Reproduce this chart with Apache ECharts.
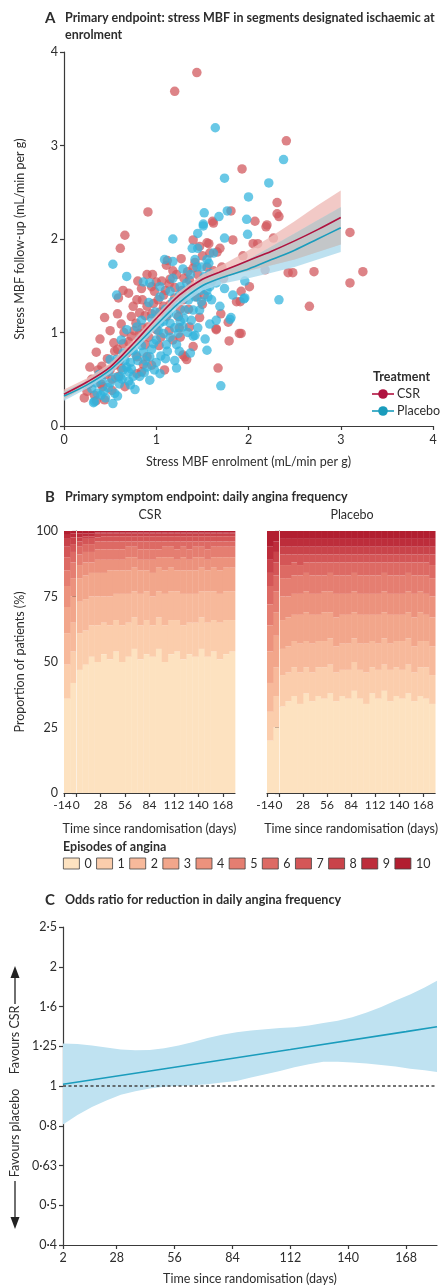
<!DOCTYPE html>
<html><head><meta charset="utf-8">
<script src="https://cdn.jsdelivr.net/npm/echarts@6/dist/echarts.min.js"></script>
<style>html,body{margin:0;padding:0;background:#fff}#c{width:440px;height:1286px}</style>
</head><body><div id="c"></div>
<script>
// ---------- Panel A data ----------
const csrPoints = [[1.44,3.78],[1.20,3.58],[2.41,3.05],[1.93,2.75],[2.31,2.39],[0.91,2.29],[1.81,2.30],[2.31,2.27],[2.33,2.24],[2.07,2.19],[1.61,2.19],[2.20,2.15],[3.10,2.07],[2.05,1.95],[2.10,1.95],[2.27,2.01],[1.94,1.82],[2.18,1.67],[2.43,1.64],[2.48,1.64],[2.71,1.65],[3.24,1.65],[3.10,1.53],[2.01,1.49],[1.92,1.44],[1.91,1.33],[2.66,1.28],[1.92,0.99],[0.66,2.04],[0.61,1.90],[1.62,2.17],[1.40,1.99],[1.57,1.95],[1.83,1.99],[2.19,2.13],[1.69,1.90],[1.27,1.79],[1.11,1.72],[1.71,1.70],[1.87,1.33],[1.78,1.11],[1.65,1.03],[1.90,0.99],[1.79,0.91],[1.31,0.74],[1.33,0.71],[1.67,0.62],[1.09,0.60],[0.25,0.37],[0.28,0.63],[0.35,0.79],[0.39,0.93],[0.44,1.16],[0.44,0.28],[0.35,0.27],[0.33,0.33],[0.90,1.62],[0.59,1.37],[0.64,1.45],[0.79,1.35],[0.95,1.49],[1.00,1.54],[0.62,1.09],[0.41,0.64],[0.54,0.89],[0.55,0.80],[0.70,1.42],[0.73,1.17],[0.84,1.47],[1.06,1.55],[1.15,1.57],[1.12,1.77],[1.34,1.65],[1.40,1.69],[1.45,1.62],[0.82,1.21],[0.90,1.28],[0.97,1.31],[1.04,1.22],[1.11,1.17],[1.20,1.37],[1.29,1.35],[1.44,1.38],[0.91,1.06],[1.00,1.03],[0.82,0.99],[0.73,0.96],[0.88,0.87],[0.79,0.74],[0.90,0.74],[0.84,0.58],[0.79,0.56],[0.66,0.42],[0.59,0.53],[0.50,0.60],[1.29,0.76],[1.65,1.04],[1.55,1.96],[1.58,1.85],[1.24,1.17],[0.75,1.28],[1.30,1.58],[1.20,1.48],[1.08,1.40],[0.95,1.20],[1.00,1.10],[0.85,1.05],[0.70,0.90],[0.60,0.70],[0.45,0.55],[0.40,0.45],[0.30,0.50],[0.55,0.65],[0.68,0.78],[1.25,1.05],[1.35,1.25],[1.50,1.30],[1.15,1.30],[1.05,0.95],[0.92,0.95],[1.18,0.92],[1.38,1.50],[1.60,1.55],[1.55,1.70],[1.50,1.82],[0.78,1.10],[0.65,1.00],[1.10,1.45],[0.85,1.35],[0.42,0.42],[0.22,0.30],[0.52,0.38],[0.95,0.65],[1.40,0.85],[1.70,1.20],[0.58,0.82],
[1.02,1.35],[1.08,1.28],[1.14,1.52],[1.22,1.62],[1.28,1.45],[1.36,1.56],[1.42,1.75],[1.47,1.92],[1.18,1.66],[0.98,1.44],[0.88,1.18],[0.76,1.02],[0.70,0.80],[0.62,0.62],[0.52,0.50],[0.47,0.72],[0.37,0.60],[0.27,0.45],[0.64,0.88],[0.86,0.66],[1.03,0.86],[1.14,1.02],[1.26,0.95],[1.36,1.06],[1.47,1.16],[1.52,1.40],[1.62,1.66],[1.66,1.86],[1.73,1.58],[0.96,1.62],[1.26,1.25],[0.80,1.55],[0.58,1.20],[0.50,1.02]];
const placeboPoints = [[1.64,3.19],[2.38,2.85],[1.74,2.65],[2.22,2.60],[2.00,2.45],[1.52,2.28],[1.68,2.24],[1.77,2.30],[1.98,2.21],[1.51,2.16],[1.99,2.05],[2.36,1.92],[1.96,1.55],[1.95,1.36],[2.33,1.35],[0.53,1.73],[1.51,2.14],[1.45,2.06],[1.18,2.00],[1.74,2.01],[1.39,1.90],[1.09,1.78],[1.18,1.76],[1.57,1.74],[1.83,1.40],[1.96,1.37],[1.80,1.14],[1.65,1.13],[1.58,1.09],[1.53,0.93],[1.40,0.96],[1.55,0.81],[1.37,0.78],[1.70,0.43],[1.22,0.62],[0.53,0.24],[0.33,0.26],[0.68,1.60],[0.57,1.40],[0.86,1.54],[1.42,1.78],[1.55,1.78],[1.49,1.70],[1.58,1.63],[1.65,1.53],[1.74,1.47],[1.42,0.97],[0.32,0.25],[0.43,0.37],[0.35,0.46],[0.50,0.46],[0.41,0.49],[0.61,0.53],[0.68,0.63],[0.75,0.53],[0.82,0.53],[0.90,0.63],[0.93,0.74],[0.86,0.79],[0.75,0.81],[0.64,0.78],[0.57,0.71],[0.77,0.39],[0.82,0.92],[1.00,0.92],[1.08,0.99],[1.11,0.87],[1.22,0.87],[1.24,0.99],[1.04,1.10],[1.15,1.10],[1.22,1.19],[1.31,1.24],[1.40,1.24],[1.47,1.24],[1.38,1.13],[1.29,1.06],[1.42,1.38],[1.49,1.33],[1.56,1.38],[1.26,1.49],[1.15,1.44],[1.04,1.38],[1.04,1.49],[0.93,1.53],[1.33,1.53],[1.47,1.53],[1.58,1.49],[1.69,1.28],[1.81,1.16],[0.84,1.13],[0.79,1.06],[0.68,1.03],[0.62,0.92],[0.50,0.71],[0.93,0.49],[1.04,0.56],[0.64,0.60],[0.45,0.30],[0.55,0.35],[0.60,0.45],[0.70,0.48],[0.72,0.68],[0.80,0.70],[0.95,0.82],[1.05,0.75],[1.15,0.95],[1.20,1.05],[1.30,1.15],[1.35,1.35],[1.10,1.25],[0.95,1.15],[0.88,0.98],[1.48,1.45],[1.52,1.60],[1.62,1.85],[1.45,1.90],[0.38,0.55],[0.48,0.58],[1.00,0.68],[1.10,0.72],[1.25,0.80],[0.70,0.58],[0.30,0.40],
[0.40,0.33],[0.48,0.41],[0.56,0.52],[0.63,0.50],[0.66,0.70],[0.73,0.61],[0.78,0.76],[0.84,0.86],[0.88,0.70],[0.97,0.88],[1.02,1.02],[1.08,1.12],[1.13,1.20],[1.18,1.33],[1.25,1.40],[1.32,1.44],[1.37,1.62],[1.44,1.70],[1.50,1.52],[1.55,1.45],[1.60,1.35],[1.26,1.12],[1.34,1.00],[1.45,1.05],[1.12,0.80],[0.98,0.60],[0.87,0.57],[0.72,0.44],[0.58,0.32],[0.36,0.35],[0.92,1.32],[0.99,1.22],[1.18,1.58],[1.29,1.68],[1.40,1.46],[1.20,0.70]];
const fitX       = [0, 0.25, 0.5, 0.75, 1.0, 1.25, 1.5, 1.75, 2.0, 2.25, 2.5, 2.75, 3.0];
const csrFit     = [0.34,0.47,0.63,0.88,1.15,1.40,1.57,1.67,1.77,1.87,1.98,2.10,2.23];
const csrLo      = [0.29,0.43,0.59,0.84,1.11,1.36,1.52,1.60,1.66,1.72,1.78,1.86,1.94];
const csrHi      = [0.39,0.51,0.67,0.92,1.19,1.44,1.62,1.74,1.88,2.03,2.19,2.36,2.52];
const placeboFit = [0.32,0.44,0.60,0.83,1.08,1.32,1.50,1.60,1.68,1.78,1.88,2.00,2.12];
const placeboLo  = [0.27,0.40,0.56,0.79,1.04,1.28,1.45,1.53,1.58,1.64,1.70,1.78,1.86];
const placeboHi  = [0.37,0.48,0.64,0.87,1.12,1.36,1.55,1.67,1.78,1.92,2.06,2.20,2.34];

// ---------- Panel B data ----------
const episodeCategories = ['0','1','2','3','4','5','6','7','8','9','10'];
const binStartDays = [-14,-7,0,7,14,21,28,35,42,49,56,63,70,77,84,91,98,105,112,119,126,133,140,147,154,161,168,175];
const binDays = 7;
const csrProportions = [
[36,13,12,10,8,6,5,4,3,1.5,1.5],[42,12,11,10,7,6,4,3,2.5,1.5,1],
[47,14,12,9,5,4,3,2,1.5,1.5,1],[49,13,12,9,5,4,3,2,1,1,1],[52,12,11,9,4,4,3,2,1,1,1],[50,14,11,9,5,4,3,1.5,1.5,0.5,0.5],
[53,12,10,9,5,4,3,2,1,0.5,0.5],[51,13,11,10,4,4,3,2,1,0.5,0.5],[54,12,10,9,4,4,3,2,1,0.5,0.5],[50,14,12,9,4,4,3,2,1,0.5,0.5],
[52,13,11,9,5,4,2,2,1,0.5,0.5],[55,12,10,9,4,4,2,2,1,0.5,0.5],[51,13,12,9,4,4,3,2,1,0.5,0.5],[53,13,11,8,4,4,3,2,1,0.5,0.5],
[52,12,11,9,5,4,3,2,1,0.5,0.5],[55,12,10,9,4,3,3,2,1,0.5,0.5],[50,14,12,9,5,4,2,2,1,0.5,0.5],[53,13,11,9,4,4,2,2,1,0.5,0.5],
[54,12,11,8,4,4,3,2,1,0.5,0.5],[51,13,12,9,5,4,2,2,1,0.5,0.5],[53,12,11,9,4,4,3,2,1,0.5,0.5],[52,13,11,9,5,4,2,2,1,0.5,0.5],
[55,12,10,9,4,4,2,2,1,0.5,0.5],[52,13,12,8,4,4,3,2,1,0.5,0.5],[54,12,11,9,4,4,2,2,1,0.5,0.5],[51,14,11,9,5,4,2,2,1,0.5,0.5],
[53,13,11,9,4,4,2,2,1,0.5,0.5],[54,12,11,9,4,4,2,2,1,0.5,0.5]];
const placeboProportions = [
[20,11,11,12,10,8,7,5,5,5,6],[25,12,11,12,9,8,6,5,4,4,4],
[33,12,10,11,9,7,5,4,3,3,3],[35,11,10,11,8,7,5,4,3,3,3],[37,11,10,10,8,7,5,3,3,3,3],[34,12,11,11,8,7,4,4,3,3,3],
[38,10,10,11,8,7,4,3,3,3,3],[35,11,11,11,8,7,5,3,3,3,3],[37,11,10,10,8,7,5,3,3,3,3],[36,12,10,11,8,6,5,3,3,3,3],
[38,11,10,10,8,7,4,3,3,3,3],[35,11,10,11,9,7,5,3,3,3,3],[37,10,10,11,8,7,5,3,3,3,3],[36,11,10,11,8,7,5,3,3,3,3],
[39,11,9,10,8,7,4,3,3,3,3],[36,11,10,11,8,7,5,3,3,3,3],[34,12,11,11,8,7,5,3,3,3,3],[38,10,10,10,8,7,5,3,3,3,3],
[36,11,10,11,8,7,5,3,3,3,3],[39,10,10,10,8,7,4,3,3,3,3],[35,12,10,11,8,7,5,3,3,3,3],[37,11,10,10,8,7,5,3,3,3,3],
[36,11,11,10,8,7,5,3,3,3,3],[38,11,10,10,8,7,4,3,3,3,3],[35,11,10,11,9,7,5,3,3,3,3],[37,11,10,11,8,6,5,3,3,3,3],
[36,12,10,10,8,7,5,3,3,3,3],[34,11,11,11,8,7,5,4,3,3,3]];
const dayTicks = [-14,0,28,56,84,112,140,168];

// ---------- Panel C data ----------
const orDays  = [2,9,16,23,30,37,44,51,58,65,72,79,86,93,100,107,114,121,128,135,142,149,156,163,170,177,183];
const orUpper = [1.28,1.275,1.265,1.25,1.235,1.23,1.232,1.245,1.265,1.29,1.32,1.345,1.365,1.38,1.39,1.40,1.405,1.42,1.44,1.46,1.49,1.53,1.58,1.64,1.70,1.77,1.84];
const orLower = [0.80,0.845,0.885,0.92,0.95,0.97,0.985,0.995,1.0,1.005,1.01,1.02,1.03,1.05,1.07,1.09,1.115,1.135,1.15,1.15,1.145,1.14,1.13,1.12,1.105,1.095,1.085];
const orLineDays = [2,56,112,168,183];
const orLine     = [1.01,1.115,1.235,1.37,1.41];
const orRefDays  = [2,183];
const orRefLine  = [1,1];
const orTickValues = [0.4,0.5,0.63,0.8,1,1.25,1.6,2,2.5];
const orTickLabels = ['0·4','0·5','0·63','0·8','1','1·25','1·6','2','2·5'];
const orDayTicks = [2,28,56,84,112,140,168];

// ---------- styling ----------
const FONT = 'Lato, "Open Sans", sans-serif';
const TXT = '#2d2d2d';
const AX = '#3a3a3a';
const episodeColors = ['#fde2c0','#fbcdac','#f7b99b','#f2a68b','#ec927d','#e57e71','#dd6a64','#d45657','#c9434a','#bd2d3b','#b21e30'];
const csrRed = '#d25a5f', plaBlue = '#2fb3dc';

const axisBase = {
  axisLine:{show:true,lineStyle:{color:AX,width:1.2}},
  axisTick:{show:true,length:4,lineStyle:{color:AX,width:1.2}},
  axisLabel:{color:TXT,fontSize:12.5,fontFamily:FONT},
  splitLine:{show:false},
  nameTextStyle:{color:TXT,fontSize:12.5,fontFamily:FONT}
};
function ax(o){ return Object.assign({}, JSON.parse(JSON.stringify(axisBase)), o, {
  axisLabel:Object.assign({}, axisBase.axisLabel, o.axisLabel||{}),
  axisTick:Object.assign({}, axisBase.axisTick, o.axisTick||{}) }); }

const chart = echarts.init(document.getElementById('c'), null, {renderer:'canvas'});
const series = [];

function bandSeries(xi, yi, xs, lo, hi, color, opacity, z){
  return {type:'custom', xAxisIndex:xi, yAxisIndex:yi, silent:true, z:z,
    data:xs.map((x,i)=>[x, lo[i], hi[i]]), encode:{x:0, y:[1,2]},
    renderItem:(params, api)=>{
      if (params.dataIndex !== 0) return null;
      const pts = [];
      for (let i=0;i<xs.length;i++) pts.push(api.coord([xs[i], hi[i]]));
      for (let i=xs.length-1;i>=0;i--) pts.push(api.coord([xs[i], lo[i]]));
      return {type:'polygon', shape:{points:pts}, style:{fill:color, opacity:opacity}};
    }};
}

// Panel A
series.push({type:'scatter', name:'CSR', xAxisIndex:0, yAxisIndex:0, data:csrPoints, symbolSize:9.5,
  itemStyle:{color:csrRed, opacity:0.75}, z:2, silent:true});
series.push({type:'scatter', name:'Placebo', xAxisIndex:0, yAxisIndex:0, data:placeboPoints, symbolSize:9.5,
  itemStyle:{color:plaBlue, opacity:0.72}, z:2, silent:true});
const ovLo = fitX.map((_,i)=>Math.max(csrLo[i], placeboLo[i]));
const ovHi = fitX.map((_,i)=>Math.min(csrHi[i], placeboHi[i]));
series.push(bandSeries(0,0,fitX,csrLo,csrHi,'#efbcb8',0.8,3));
series.push(bandSeries(0,0,fitX,placeboLo,placeboHi,'#acdaec',0.8,3));
series.push(bandSeries(0,0,fitX,ovLo,ovHi,'#c4c4c4',0.9,3));
series.push({type:'line', xAxisIndex:0, yAxisIndex:0, data:fitX.map((x,i)=>[x,csrFit[i]]), symbol:'none', smooth:0.3,
  lineStyle:{color:'#b0123f', width:1.6}, z:4, silent:true});
series.push({type:'line', xAxisIndex:0, yAxisIndex:0, data:fitX.map((x,i)=>[x,placeboFit[i]]), symbol:'none', smooth:0.3,
  lineStyle:{color:'#1a9cbc', width:1.6}, z:4, silent:true});

// Panel B
function stackedRows(props, k){
  return binStartDays.map((d,i)=>{
    let lo = 0; for (let j=0;j<k;j++) lo += props[i][j];
    return [d, d+binDays, lo, lo+props[i][k]];
  });
}
function barRender(color){
  return (params, api)=>{
    const a = api.coord([api.value(0), api.value(3)]);
    const b = api.coord([api.value(1), api.value(2)]);
    return {type:'rect', shape:{x:a[0], y:a[1], width:b[0]-a[0]+0.35, height:b[1]-a[1]}, style:{fill:color}};
  };
}
episodeCategories.forEach((name,k)=>{
  const ml = k===episodeCategories.length-1 ? {silent:true, symbol:'none', label:{show:false},
      lineStyle:{color:'#fff4e8', width:1, type:'solid', opacity:0.85}, data:[{xAxis:0}]} : undefined;
  series.push({type:'custom', name:name, xAxisIndex:1, yAxisIndex:1, itemStyle:{color:episodeColors[k]},
    data:stackedRows(csrProportions,k), encode:{x:[0,1], y:[2,3]}, renderItem:barRender(episodeColors[k]), silent:true, markLine:ml});
  series.push({type:'custom', name:name, xAxisIndex:2, yAxisIndex:2, itemStyle:{color:episodeColors[k]},
    data:stackedRows(placeboProportions,k), encode:{x:[0,1], y:[2,3]}, renderItem:barRender(episodeColors[k]), silent:true, markLine:ml});
});

// Panel C
series.push(bandSeries(3,3,orDays,orLower,orUpper,'#bfe2f1',1,2));
series.push({type:'line', xAxisIndex:3, yAxisIndex:3, data:orRefDays.map((d,i)=>[d,orRefLine[i]]), symbol:'none',
  lineStyle:{color:'#444', width:1.3, type:[3,2.5]}, z:3, silent:true});
series.push({type:'line', xAxisIndex:3, yAxisIndex:3, data:orLineDays.map((d,i)=>[d,orLine[i]]), symbol:'none',
  lineStyle:{color:'#1a9cbc', width:1.6}, z:4, silent:true});

function orLabel(v){
  let best=0, bd=1e9;
  orTickValues.forEach((t,i)=>{ const d=Math.abs(Math.log(v)-Math.log(t)); if(d<bd){bd=d;best=i;} });
  return orTickLabels[best];
}
function dayLabel(v){ return v === dayTicks[0] ? '{m|' + v + '}' : String(v); }

const BF = 'bold 12.5px '+FONT;
const T = (text, x, y, o) => ({type:'text', x:x, y:y, silent:true, z:100,
  style:Object.assign({text:text, fill:TXT, font:'12.5px '+FONT, textVerticalAlign:'middle'}, o||{})});

const graphic = [
  T('A', 45, 18, {font:'bold 15px '+FONT}),
  T('Primary endpoint: stress MBF in segments designated ischaemic at', 65, 18, {font:BF}),
  T('enrolment', 65, 35, {font:BF}),
  T('Treatment', 373, 377, {font:BF}),
  {type:'line', z:100, shape:{x1:372,y1:394,x2:394,y2:394}, style:{stroke:'#b0123f', lineWidth:1.6}, silent:true},
  {type:'circle', z:100, shape:{cx:383,cy:394,r:4.8}, style:{fill:'#b0123f'}, silent:true},
  T('CSR', 397, 394),
  {type:'line', z:100, shape:{x1:372,y1:411,x2:394,y2:411}, style:{stroke:'#1a9cbc', lineWidth:1.6}, silent:true},
  {type:'circle', z:100, shape:{cx:383,cy:411,r:4.8}, style:{fill:'#1a9cbc'}, silent:true},
  T('Placebo', 397, 411),
  T('B', 45, 497, {font:'bold 15px '+FONT}),
  T('Primary symptom endpoint: daily angina frequency', 65, 497, {font:BF}),
  T('CSR', 150, 515, {textAlign:'center'}),
  T('Placebo', 352, 515, {textAlign:'center'}),
  T('Episodes of angina', 63, 847, {font:BF}),
  T('C', 45, 900, {font:'bold 15px '+FONT}),
  T('Odds ratio for reduction in daily angina frequency', 65, 900, {font:BF}),
  {type:'text', x:15, y:1040, rotation:Math.PI/2, silent:true, style:{text:'Favours CSR', fill:TXT, font:'12.5px '+FONT, textAlign:'center', textVerticalAlign:'middle'}},
  {type:'text', x:15, y:1133, rotation:Math.PI/2, silent:true, style:{text:'Favours placebo', fill:TXT, font:'12.5px '+FONT, textAlign:'center', textVerticalAlign:'middle'}},
  {type:'line', shape:{x1:15,y1:1004,x2:15,y2:976}, style:{stroke:'#222', lineWidth:1.3}, silent:true},
  {type:'polygon', shape:{points:[[15,966],[10.5,978],[19.5,978]]}, style:{fill:'#222'}, silent:true},
  {type:'line', shape:{x1:15,y1:1181,x2:15,y2:1218}, style:{stroke:'#222', lineWidth:1.3}, silent:true},
  {type:'polygon', shape:{points:[[15,1229],[10.5,1217],[19.5,1217]]}, style:{fill:'#222'}, silent:true}
];

const dayAxisLabel = {customValues:dayTicks, margin:6, fontSize:12, showMinLabel:true, hideOverlap:false,
  formatter:dayLabel, rich:{m:{fontSize:12, fontFamily:FONT, color:TXT, padding:[0,3,0,0]}}};

const option = {
  animation:false,
  backgroundColor:'#fff',
  textStyle:{fontFamily:FONT},
  grid:[
    {left:64, top:52, width:369, height:374},
    {left:64, top:531, width:171, height:262},
    {left:267, top:531, width:170, height:262},
    {left:63, top:927, width:374, height:318}
  ],
  xAxis:[
    ax({type:'value', gridIndex:0, min:0, max:4, interval:1, name:'Stress MBF enrolment (mL/min per g)', nameLocation:'middle', nameGap:29,
        axisLabel:{margin:7}}),
    ax({type:'value', gridIndex:1, min:-14, max:182, name:'Time since randomisation (days)', nameLocation:'middle', nameGap:29,
        axisTick:{customValues:dayTicks}, axisLabel:dayAxisLabel}),
    ax({type:'value', gridIndex:2, min:-14, max:182, name:'Time since randomisation (days)', nameLocation:'middle', nameGap:29,
        axisTick:{customValues:dayTicks}, axisLabel:dayAxisLabel}),
    ax({type:'value', gridIndex:3, min:2, max:183, name:'Time since randomisation (days)', nameLocation:'middle', nameGap:27,
        axisTick:{customValues:orDayTicks}, axisLabel:{customValues:orDayTicks, margin:6}})
  ],
  yAxis:[
    ax({type:'value', gridIndex:0, min:0, max:4, interval:1, name:'Stress MBF follow-up (mL/min per g)', nameLocation:'middle', nameGap:38,
        axisLabel:{margin:6}}),
    ax({type:'value', gridIndex:1, min:0, max:100, interval:25, name:'Proportion of patients (%)', nameLocation:'middle', nameGap:38,
        axisLabel:{margin:6}}),
    ax({type:'value', gridIndex:2, min:0, max:100, interval:25, axisLabel:{show:false}}),
    ax({type:'log', gridIndex:3, logBase:Math.pow(10,0.1), min:Math.pow(10,-0.4), max:Math.pow(10,0.4), splitNumber:8,
        axisLabel:{formatter:orLabel, margin:6}})
  ],
  legend:{data:episodeCategories, left:63, top:857, width:400, padding:0, orient:'horizontal', itemWidth:16, itemHeight:11, itemGap:4.5,
    icon:'rect', selectedMode:false, textStyle:{fontSize:12.5, fontFamily:FONT, color:TXT},
    itemStyle:{borderColor:'#444', borderWidth:0.8}},
  series:series,
  graphic:graphic
};
chart.setOption(option);
</script></body></html>
